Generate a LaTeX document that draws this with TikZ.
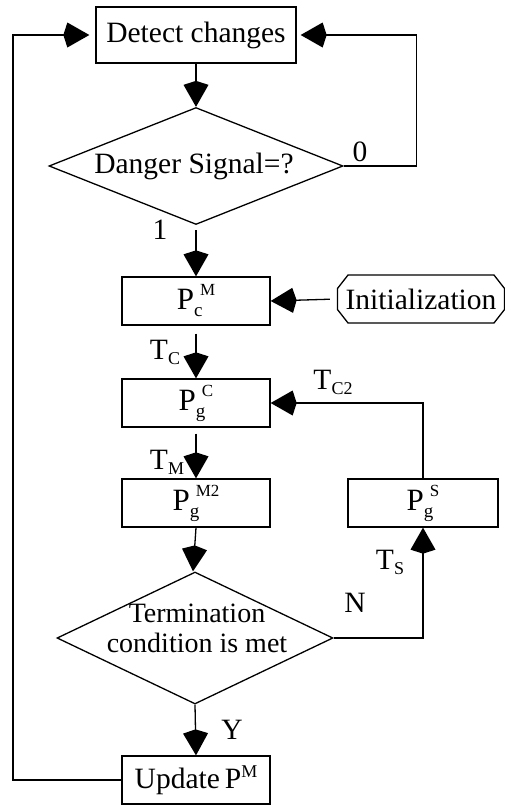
\documentclass[tikz,border=0pt]{standalone}
\usepackage{fontspec}
\setmainfont{Liberation Serif}
\usetikzlibrary{shapes.geometric,shapes.misc,arrows.meta}
\newcommand\Pss[2]{{\fontsize{31}{32}\selectfont P}\makebox[0pt][l]{\raisebox{-7pt}{\fontsize{19}{19}\selectfont #1}}\hspace{6pt}\raisebox{14pt}{\fontsize{17}{17}\selectfont #2}}
\newcommand\Tsub[1]{T\raisebox{-5pt}{\fontsize{18}{18}\selectfont #1}}
\begin{document}
\begin{tikzpicture}[x=1pt,y=-1pt,
  font=\fontsize{29.5}{32}\selectfont,
  box/.style={draw, line width=1.3pt, minimum width=148pt, minimum height=48pt, inner sep=0pt},
  dia/.style={draw, line width=1.3pt, diamond, inner sep=0pt},
  arr/.style={line width=1.3pt, -{Kite[length=26pt,width=25pt,inset=4pt]}},
  ln/.style={line width=1.3pt},
  lbl/.style={inner sep=0pt}
]
\useasboundingbox (0,0) rectangle (504,806);

\node[box, minimum width=200pt, minimum height=56pt] (dc) at (196,35) {Detect changes};
\node[dia, minimum width=294pt, minimum height=117pt] (d1) at (196,166) {};
\node[lbl] (d1t) at (194,166) {Danger Signal=?};
\node[box] (pcm) at (196,301) {\Pss{c}{M}};
\node[draw, line width=1.3pt, chamfered rectangle, chamfered rectangle xsep=14pt,
  chamfered rectangle angle=38,
  minimum width=163pt, minimum height=48pt, inner sep=0pt] (init) at (421,299) {Initialization};
\node[box] (pgc) at (196,403) {\Pss{g}{C}};
\node[box] (pgm) at (196,503) {\Pss{g}{M2}};
\node[box, minimum width=150pt] (pgs) at (423,503) {\Pss{g}{S}};
\node[dia, minimum width=276pt, minimum height=132pt] (d2) at (195,638) {};
\node[lbl, align=center, font=\fontsize{28}{30}\selectfont] (d2t) at (197,628) {Termination\\condition is met};
\node[box] (upd) at (196,780) {Update\,P\raisebox{11pt}{\fontsize{18}{18}\selectfont M}};

% labels
\node[lbl] (l0) at (360,152) {0};
\node[lbl] (l1) at (160,230) {1};
\node[lbl] (ltc) at (165,352) {\Tsub{C}};
\node[lbl] (ltc2) at (333,382) {\Tsub{C2}};
\node[lbl] (ltm) at (167,462) {\Tsub{M}};
\node[lbl] (ln) at (355,603) {N};
\node[lbl] (lts) at (390,562) {\Tsub{S}};
\node[lbl] (ly) at (232,730) {Y};

% connectors
\draw[arr] (dc.south) -- (d1.north);
\draw[arr, shorten >=4pt] (d1.east) -- ++(73,0) |- (dc.east);
\draw[arr, shorten <=5pt] (d1.south) -- (pcm.north);
\draw[arr, shorten <=7pt] (init.west) -- (pcm.east);
\draw[arr, shorten <=8pt] (pcm.south) -- (pgc.north);
\draw[arr] (pgs.north) |- (pgc.east);
\draw[arr, shorten <=6pt] (pgc.south) -- (pgm.north);
\draw[arr] (pgm.south) -- ([xshift=-2pt]d2.north);
\draw[arr] (d2.east) -| (pgs.south);
\draw[arr] (d2.south) -- (upd.north);
\draw[arr, shorten >=6pt] (upd.west) -- (13,780) |- (dc.west);
\end{tikzpicture}
\end{document}
